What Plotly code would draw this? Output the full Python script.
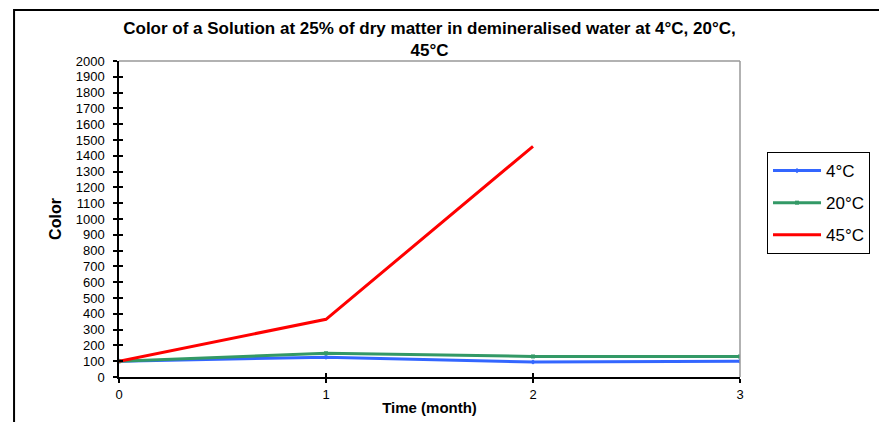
import plotly.graph_objects as go

months = [0, 1, 2, 3]
series_names = ["4°C", "20°C", "45°C"]
values_4c = [100, 125, 95, 100]
values_20c = [100, 150, 130, 130]
values_45c_x = [0, 1, 2]
values_45c = [100, 365, 1460]
y_ticks = list(range(0, 2001, 100))
colors = ["#3366FF", "#339966", "#FF0000"]

fig = go.Figure()
fig.add_trace(go.Scatter(x=months, y=values_4c, name=series_names[0], mode="lines+markers", legendgroup="a",
                         line=dict(color=colors[0], width=3), marker=dict(size=4, symbol="diamond", color=colors[0])))
fig.add_trace(go.Scatter(x=months, y=values_20c, name=series_names[1], mode="lines+markers", legendgroup="b",
                         line=dict(color=colors[1], width=3), marker=dict(size=4, symbol="square", color=colors[1])))
fig.add_trace(go.Scatter(x=values_45c_x, y=values_45c, name=series_names[2], mode="lines", legendgroup="c",
                         line=dict(color=colors[2], width=3)))

font_family = "Liberation Sans, Arial, sans-serif"
fig.update_layout(
    width=879, height=422,
    margin=dict(l=119, r=139, t=61, b=45, autoexpand=False),
    paper_bgcolor="white", plot_bgcolor="white",
    font=dict(family=font_family, color="black", size=12),
    title=dict(text="<b>Color of a Solution at 25% of dry matter in demineralised water at 4°C, 20°C,<br>45°C</b>",
               x=0.4886, xanchor="center", y=0.92, yanchor="top", font=dict(size=17, family=font_family)),
    xaxis=dict(range=[0, 3], tickvals=months, ticks="outside", ticklen=4, tickwidth=1.5, tickcolor="black",
               showline=True, linecolor="black", linewidth=1.5, showgrid=False, zeroline=False,
               mirror=False, tickfont=dict(size=13), ticklabelstandoff=1, automargin=False,
               title=dict(text="<b>Time (month)</b>", font=dict(size=15), standoff=1)),
    yaxis=dict(range=[0, 2000], tickvals=y_ticks, ticks="outside", ticklen=4, tickwidth=1.5, tickcolor="black",
               showline=True, linecolor="black", linewidth=1.5, showgrid=False, zeroline=False,
               tickfont=dict(size=13), ticklabelstandoff=6, automargin=False,
               title=dict(text="<b>Color</b>", font=dict(size=16), standoff=10)),
    xaxis2=dict(range=[0, 3], tickvals=months, ticks="inside", ticklen=4, tickwidth=1.5, tickcolor="black",
                showticklabels=False, overlaying="x", showgrid=False, zeroline=False, showline=False),
    yaxis2=dict(range=[0, 2000], tickvals=y_ticks, ticks="inside", ticklen=4, tickwidth=1.5, tickcolor="black",
                showticklabels=False, overlaying="y", showgrid=False, zeroline=False, showline=False),
    legend=dict(xref="container", yref="container", x=0.8726, y=0.6398, xanchor="left", yanchor="top",
                bordercolor="black", borderwidth=1,
                font=dict(size=17, family=font_family), itemwidth=48, tracegroupgap=7),
    showlegend=True,
)
# dummy trace to activate the secondary axes (cross tick marks)
fig.add_trace(go.Scatter(x=[None], y=[None], xaxis="x2", yaxis="y2", showlegend=False, hoverinfo="skip"))

# grey top and right plot-area border
fig.add_shape(type="line", xref="paper", yref="paper", x0=0, x1=1, y0=1, y1=1, line=dict(color="#999999", width=1.5))
fig.add_shape(type="line", xref="paper", yref="paper", x0=1, x1=1, y0=0, y1=1, line=dict(color="#999999", width=1.5))
# outer chart frame (cropped at right and bottom)
fig.add_shape(type="rect", xref="paper", yref="paper", x0=-0.169, x1=1.25, y0=-0.2, y1=1.161,
              line=dict(color="black", width=2), layer="below")

fig.write_html("out.html", config={"displayModeBar": False},
               post_script="document.body.style.margin='0';document.body.style.overflow='hidden';")
